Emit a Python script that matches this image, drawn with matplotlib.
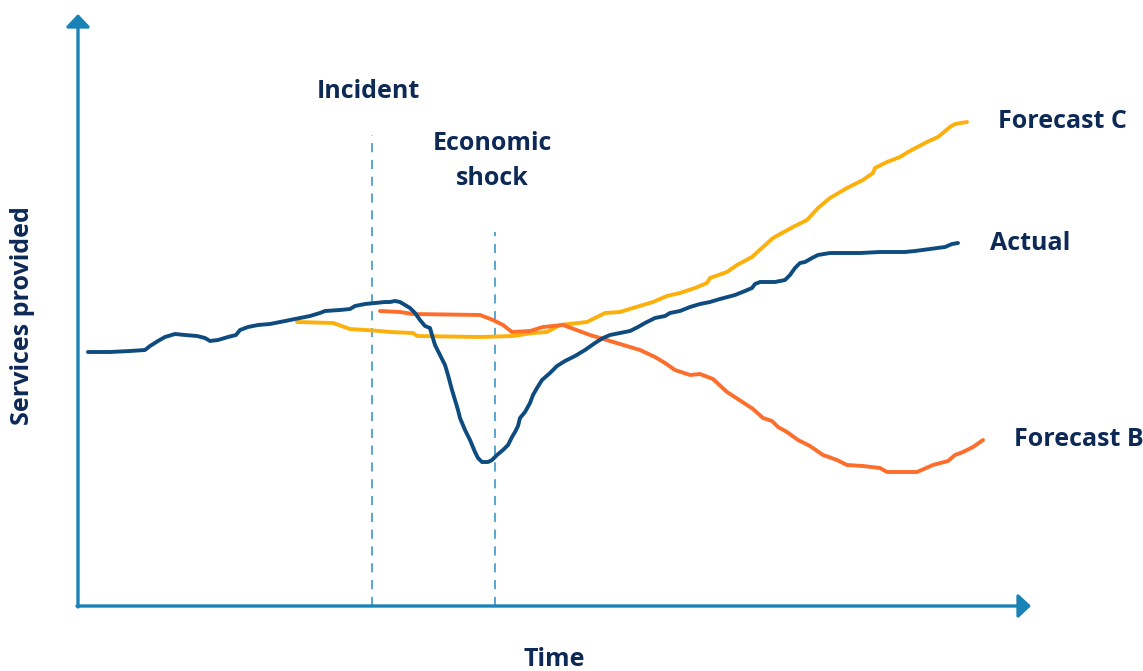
import matplotlib
matplotlib.use("Agg")
import matplotlib.pyplot as plt

# ---- data (time, services) ----
H = 671
actual_t = [88,110,130,145,150,158,165,175,185,197,205,210,218,228,236,240,248,258,270,280,290,300,310,320,325,340,350,355,365,375,385,390,395,400,405,410,415,420,425,430,432,435,440,445,448,452,455,458,460,465,470,475,478,482,488,492,497,503,508,512,515,518,520,525,530,533,537,542,550,557,565,575,585,595,603,610,620,630,638,645,655,665,670,680,690,700,710,720,735,745,752,755,760,775,785,790,795,800,805,812,818,830,845,860,880,905,915,930,945,952,958]
actual_y = [352,352,351,350,346,341,337,334,335,336,338,341,340,337,335,330,327,325,324,322,320,318,316,313,311,310,309,306,304,303,302,302,301,302,305,308,313,320,326,328,335,345,355,365,375,390,400,410,418,430,440,452,458,462,462,460,455,450,445,437,432,426,418,412,403,395,388,380,373,366,361,356,350,343,338,335,333,331,327,323,318,316,313,311,307,304,302,299,295,291,288,284,282,282,280,275,268,263,262,258,255,253,253,253,252,252,251,249,247,244,243]

fc_t = [297,333,350,380,390,413,417,480,513,533,547,560,587,605,620,633,653,667,680,695,707,710,727,737,752,763,773,782,793,807,818,830,847,863,873,875,887,900,908,927,938,950,955,967]
fc_y = [322,323,329,331,332,333,336,337,336,333,332,325,322,313,312,308,302,296,293,288,283,278,272,265,257,247,238,233,227,220,208,198,188,180,173,168,162,157,152,142,137,127,124,122]

fb_t = [380,400,413,480,493,503,512,530,543,563,590,600,620,640,655,665,675,690,700,713,727,747,753,763,772,778,787,798,810,823,837,847,863,880,887,917,933,948,955,963,973,983]
fb_y = [311,312,314,315,320,325,332,331,327,325,335,338,344,350,357,363,370,375,374,379,392,405,409,418,421,427,432,440,446,455,460,465,466,468,472,472,465,461,455,452,447,440]

events = ["Incident", "Economic\nshock"]
event_t = [371, 494]
event_top = [135, 232]

series_labels = ["Forecast C", "Actual", "Forecast B"]

# convert pixel-like readings to upward services scale
actual_s = [H - v for v in actual_y]
fc_s = [H - v for v in fc_y]
fb_s = [H - v for v in fb_y]

NAVY = "#0d2a57"
AXIS = "#1a82b6"
C_ACT = "#0e4c80"
C_FC = "#fcb00c"
C_FB = "#fd6d2c"

fig = plt.figure(figsize=(11.43, 6.71), dpi=100)
ax = fig.add_axes([0, 0, 1, 1])
ax.set_xlim(0, 1143)
ax.set_ylim(0, H)
ax.axis("off")

font = dict(family="Open Sans", fontweight="bold", color=NAVY)

# event dashed lines
for t, top in zip(event_t, event_top):
    ax.plot([t + 0.5, t + 0.5], [H - 606, H - top], color="#2a90c4", lw=1.1, ls=(0, (6, 5)), zorder=1)

ax.plot(fc_t, fc_s, color=C_FC, lw=2.8, solid_capstyle="round", solid_joinstyle="round", zorder=2)
ax.plot(fb_t, fb_s, color=C_FB, lw=2.8, solid_capstyle="round", solid_joinstyle="round", zorder=3)
ax.plot(actual_t, actual_s, color=C_ACT, lw=2.8, solid_capstyle="round", solid_joinstyle="round", zorder=4)

# axes arrows
astyle = "-|>,head_length=0.38,head_width=0.36"
ax.annotate("", xy=(1031, H - 606), xytext=(77, H - 606),
            arrowprops=dict(arrowstyle=astyle, color=AXIS, lw=2.4,
                            shrinkA=0, shrinkB=0, mutation_scale=20))
ax.annotate("", xy=(78, H - 14), xytext=(78, H - 607),
            arrowprops=dict(arrowstyle=astyle, color=AXIS, lw=2.4,
                            shrinkA=0, shrinkB=0, mutation_scale=20))

fs = 18
ax.text(368, H - 91, events[0], ha="center", va="center", fontsize=fs, **font)
ax.text(492, H - 161, events[1], ha="center", va="center", fontsize=fs, linespacing=1.5, **font)
ax.text(998, H - 122, series_labels[0], ha="left", va="center", fontsize=fs, **font)
ax.text(990, H - 243, series_labels[1], ha="left", va="center", fontsize=fs, **font)
ax.text(1014, H - 439, series_labels[2], ha="left", va="center", fontsize=fs, **font)
ax.text(23, H - 316, "Services provided", ha="center", va="center", rotation=90, fontsize=fs, **font)
ax.text(554, H - 659, "Time", ha="center", va="center", fontsize=fs, **font)

fig.savefig("out.png", dpi=100)
